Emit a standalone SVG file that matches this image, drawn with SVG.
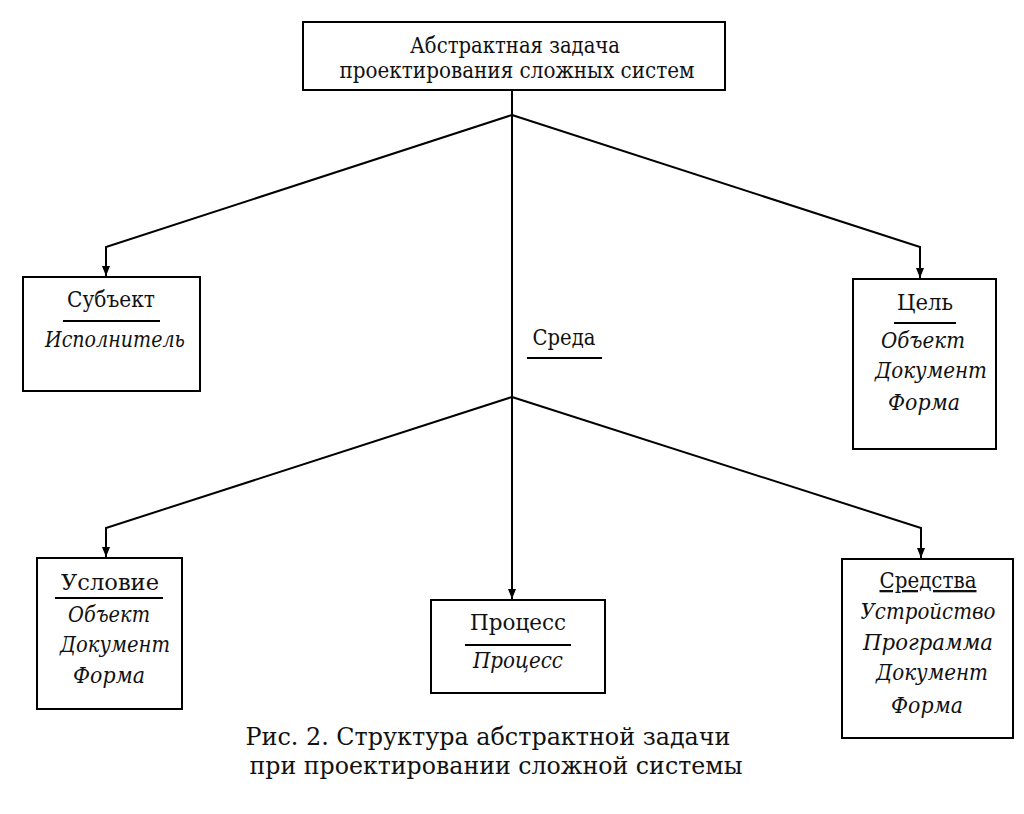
<svg xmlns="http://www.w3.org/2000/svg" width="1024" height="814" viewBox="0 0 1024 814" font-family="'DejaVu Serif', 'Liberation Serif', serif">
<style>
.box{fill:#fff;stroke:#000;stroke-width:2}
.ln{fill:none;stroke:#000;stroke-width:2}
.ul{stroke:#000;stroke-width:2}
text{fill:#111;text-anchor:middle}
.t{font-size:23px}
.i{font-size:23px;font-style:italic}
.c{font-size:25px}
</style>
<defs>
<marker id="ah" viewBox="0 0 10 10" refX="10" refY="5" markerWidth="10" markerHeight="10" markerUnits="userSpaceOnUse" orient="auto">
<path d="M0,1 L10,5 L0,9 Z" fill="#000"/>
</marker>
</defs>
<rect width="1024" height="814" fill="#fff"/>
<g id="connectors">
<path class="ln" d="M512,90 V115"/>
<path class="ln" d="M512,115 L106,247 V276" marker-end="url(#ah)"/>
<path class="ln" d="M512,115 L920,247 V278" marker-end="url(#ah)"/>
<path class="ln" d="M512,115 V397"/>
<path class="ln" d="M512,397 L106,528 V557" marker-end="url(#ah)"/>
<path class="ln" d="M512,397 L921,528 V558" marker-end="url(#ah)"/>
<path class="ln" d="M512,397 V599" marker-end="url(#ah)"/>
</g>
<g id="top">
<rect class="box" x="303" y="22" width="422" height="68"/>
<text class="t" x="515" y="53" textLength="210" lengthAdjust="spacingAndGlyphs">Абстрактная задача</text>
<text class="t" x="517" y="78" textLength="355" lengthAdjust="spacingAndGlyphs">проектирования сложных систем</text>
</g>
<g id="subject">
<rect class="box" x="23" y="277" width="177" height="114"/>
<text class="t" x="111" y="307" textLength="88" lengthAdjust="spacingAndGlyphs">Субъект</text>
<line class="ul" x1="63" y1="321" x2="160" y2="321"/>
<text class="i" x="115" y="347" textLength="140" lengthAdjust="spacingAndGlyphs">Исполнитель</text>
</g>
<g id="goal">
<rect class="box" x="853" y="279" width="143" height="170"/>
<text class="t" x="925" y="310" textLength="56" lengthAdjust="spacingAndGlyphs">Цель</text>
<line class="ul" x1="894" y1="323" x2="956" y2="323"/>
<text class="i" x="923" y="348" textLength="84" lengthAdjust="spacingAndGlyphs">Объект</text>
<text class="i" x="931" y="378" textLength="112" lengthAdjust="spacingAndGlyphs">Документ</text>
<text class="i" x="924" y="410" textLength="72" lengthAdjust="spacingAndGlyphs">Форма</text>
</g>
<g id="env">
<text class="t" x="564" y="345" textLength="63" lengthAdjust="spacingAndGlyphs">Среда</text>
<line class="ul" x1="527" y1="358" x2="602" y2="358"/>
</g>
<g id="condition">
<rect class="box" x="37" y="558" width="145" height="151"/>
<text class="t" x="110" y="590" textLength="98" lengthAdjust="spacingAndGlyphs">Условие</text>
<line class="ul" x1="55" y1="598" x2="163" y2="598"/>
<text class="i" x="109" y="622" textLength="82" lengthAdjust="spacingAndGlyphs">Объект</text>
<text class="i" x="115" y="652" textLength="110" lengthAdjust="spacingAndGlyphs">Документ</text>
<text class="i" x="109" y="683" textLength="72" lengthAdjust="spacingAndGlyphs">Форма</text>
</g>
<g id="process">
<rect class="box" x="431" y="600" width="174" height="93"/>
<text class="t" x="518" y="630" textLength="96" lengthAdjust="spacingAndGlyphs">Процесс</text>
<line class="ul" x1="465" y1="645" x2="571" y2="645"/>
<text class="i" x="518" y="668" textLength="90" lengthAdjust="spacingAndGlyphs">Процесс</text>
</g>
<g id="means">
<rect class="box" x="842" y="559" width="171" height="179"/>
<text class="t" x="928" y="588" textLength="97" lengthAdjust="spacingAndGlyphs" text-decoration="underline">Средства</text>
<text class="i" x="928" y="619" textLength="135" lengthAdjust="spacingAndGlyphs">Устройство</text>
<text class="i" x="928" y="650" textLength="130" lengthAdjust="spacingAndGlyphs">Программа</text>
<text class="i" x="932" y="680" textLength="112" lengthAdjust="spacingAndGlyphs">Документ</text>
<text class="i" x="927" y="713" textLength="72" lengthAdjust="spacingAndGlyphs">Форма</text>
</g>
<g id="caption">
<text class="c" x="488" y="745" textLength="485" lengthAdjust="spacingAndGlyphs">Рис. 2. Структура абстрактной задачи</text>
<text class="c" x="496" y="774" textLength="493" lengthAdjust="spacingAndGlyphs">при проектировании сложной системы</text>
</g>
</svg>
